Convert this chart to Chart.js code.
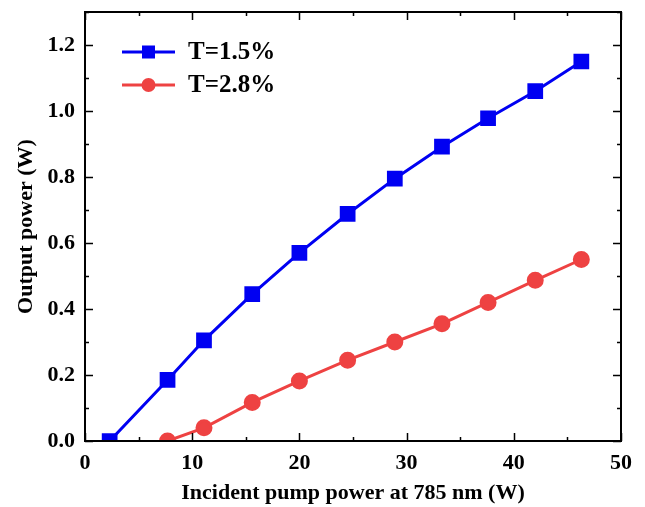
<!DOCTYPE html>
<html><head><meta charset="utf-8">
<script src="https://cdn.jsdelivr.net/npm/chart.js@4.4.1/dist/chart.umd.min.js"></script>
<style>html,body{margin:0;padding:0;background:#fff}canvas{display:block}</style>
</head><body>
<canvas id="c" width="645" height="507"></canvas>
<script>
// Data
const pumpBlue = [2.3, 7.7, 11.1, 15.6, 20.0, 24.5, 28.9, 33.3, 37.6, 42.0, 46.3];
const outBlue  = [0.0, 0.185, 0.305, 0.445, 0.57, 0.688, 0.795, 0.892, 0.978, 1.06, 1.15];
const pumpRed  = [7.7, 11.1, 15.6, 20.0, 24.5, 28.9, 33.3, 37.6, 42.0, 46.3];
const outRed   = [0.0, 0.04, 0.117, 0.182, 0.245, 0.30, 0.355, 0.42, 0.487, 0.55];
const seriesNames = ['T=1.5%', 'T=2.8%'];
const xTitle = 'Incident pump power at 785 nm (W)';
const yTitle = 'Output power (W)';

const BLUE = '#0000F2', RED = '#EE4242';
const FONT = '"Liberation Serif", "Times New Roman", serif';

const toPts = (xs, ys) => xs.map((x, i) => ({x: x, y: ys[i]}));

const framePlugin = {
  id: 'frame',
  afterDatasetsDraw(chart) {
    const {ctx, chartArea: a, scales} = chart;
    const xs = scales.x, ys = scales.y;
    ctx.save();
    ctx.strokeStyle = '#000';
    ctx.lineWidth = 2;
    ctx.strokeRect(a.left, a.top, a.right - a.left, a.bottom - a.top);
    ctx.lineWidth = 1.5;
    ctx.beginPath();
    for (let v = 0; v <= 50.001; v += 5) {
      const p = Math.round(xs.getPixelForValue(v)) + 0.5;
      const L = (Math.round(v) % 10 === 0) ? 8 : 4;
      ctx.moveTo(p, a.bottom); ctx.lineTo(p, a.bottom - L);
      ctx.moveTo(p, a.top); ctx.lineTo(p, a.top + L);
    }
    for (let k = 0; k <= 13; k++) {
      const v = k / 10;
      const p = Math.round(ys.getPixelForValue(v)) + 0.5;
      const L = (k % 2 === 0) ? 8 : 4;
      ctx.moveTo(a.left, p); ctx.lineTo(a.left + L, p);
      ctx.moveTo(a.right, p); ctx.lineTo(a.right - L, p);
    }
    ctx.stroke();

    // legend
    const items = chart.data.datasets;
    const lx0 = a.left + 37, lx1 = a.left + 90, ty0 = a.top + 40, gap = 33;
    items.forEach((ds, i) => {
      const y = ty0 + i * gap;
      ctx.strokeStyle = ds.borderColor;
      ctx.lineWidth = 3;
      ctx.beginPath(); ctx.moveTo(lx0, y); ctx.lineTo(lx1, y); ctx.stroke();
      ctx.fillStyle = ds.backgroundColor;
      const cx = (lx0 + lx1) / 2;
      if (ds.pointStyle === 'rect') {
        ctx.fillRect(cx - 6.5, y - 6.5, 13, 13);
      } else {
        ctx.beginPath(); ctx.arc(cx, y, 7, 0, Math.PI * 2); ctx.fill();
      }
      ctx.fillStyle = '#000';
      ctx.font = 'bold 25px ' + FONT;
      ctx.textBaseline = 'middle';
      ctx.textAlign = 'left';
      ctx.fillText(ds.label, lx1 + 13, y + 1);
    });
    ctx.restore();
  }
};

new Chart(document.getElementById('c'), {
  type: 'line',
  data: {
    datasets: [
      {label: seriesNames[0], data: toPts(pumpBlue, outBlue), borderColor: BLUE, backgroundColor: BLUE,
       borderWidth: 3, pointStyle: 'rect', pointRadius: 9, pointHoverRadius: 9, tension: 0},
      {label: seriesNames[1], data: toPts(pumpRed, outRed), borderColor: RED, backgroundColor: RED,
       borderWidth: 3, pointStyle: 'circle', pointRadius: 7, pointHoverRadius: 7, tension: 0}
    ]
  },
  options: {
    responsive: false,
    animation: false,
    events: [],
    layout: {padding: {top: 10, right: 24, left: 0, bottom: 0}},
    plugins: {legend: {display: false}, tooltip: {enabled: false}},
    scales: {
      x: {
        type: 'linear', min: 0, max: 50,
        grid: {display: false, drawTicks: false},
        border: {display: false},
        ticks: {stepSize: 10, padding: 9, color: '#000', font: {family: FONT, size: 22, weight: 'bold'}},
        title: {display: true, text: xTitle, color: '#000', padding: {top: 5, bottom: 0},
                font: {family: FONT, size: 22, weight: 'bold'}},
        afterFit(s) { s.height = 66; s.paddingLeft = 0; s.paddingRight = 0; }
      },
      y: {
        type: 'linear', min: 0, max: 1.3,
        grid: {display: false, drawTicks: false},
        border: {display: false},
        afterBuildTicks(s) { s.ticks = s.ticks.filter(t => Math.abs(t.value * 5 - Math.round(t.value * 5)) < 1e-6); },
        ticks: {stepSize: 0.2, padding: 10, color: '#000', callback: v => Number(v).toFixed(1),
                font: {family: FONT, size: 22, weight: 'bold'}},
        title: {display: true, text: yTitle, color: '#000', padding: {top: 13, bottom: 2},
                font: {family: FONT, size: 22, weight: 'bold'}},
        afterFit(s) { s.width = 85; s.paddingTop = 0; s.paddingBottom = 0; }
      }
    }
  },
  plugins: [framePlugin]
});
</script>
</body></html>
